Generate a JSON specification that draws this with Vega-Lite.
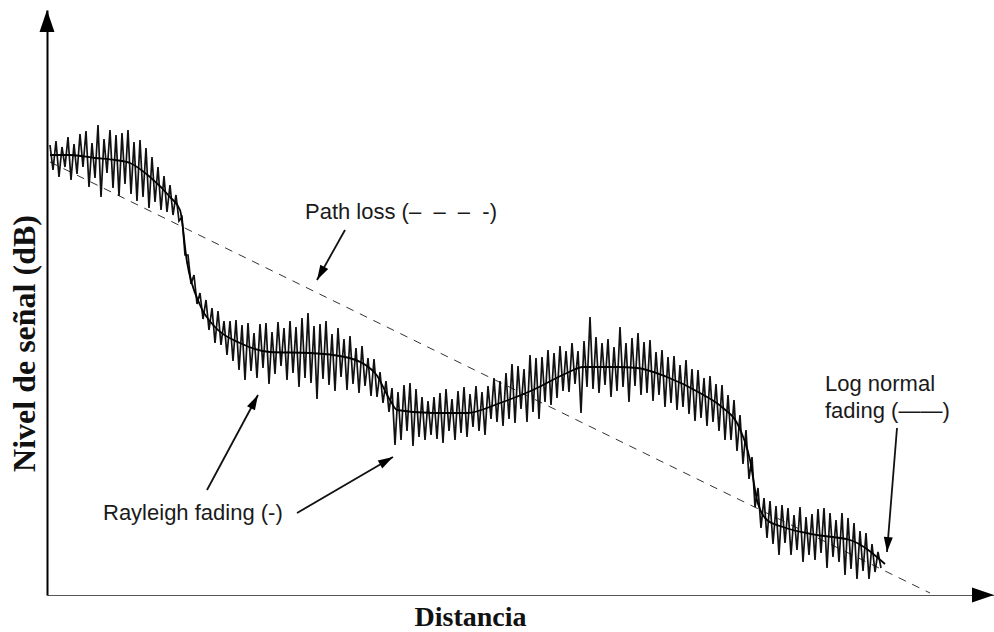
{
 "$schema": "https://vega.github.io/schema/vega-lite/v6.json",
 "width": 947,
 "height": 585,
 "autosize": "none",
 "padding": {"left": 47, "top": 10, "right": 0, "bottom": 37},
 "background": "white",
 "config": {
  "view": {"stroke": null},
  "axisX": {"domain": true, "domainColor": "#555", "domainWidth": 1, "ticks": false, "labels": false, "grid": false,
   "titleFont": "Liberation Serif", "titleFontWeight": "bold", "titleFontSize": 28, "titleColor": "#111",
   "titleX": 423, "titleY": 30, "titleAlign": "center", "titleBaseline": "alphabetic"},
  "axisY": {"domain": true, "domainColor": "#000", "domainWidth": 2, "ticks": false, "labels": false, "grid": false,
   "titleFont": "Liberation Serif", "titleFontWeight": "bold", "titleFontSize": 32, "titleColor": "#111",
   "titleX": -13, "titleY": 333, "titleAngle": 270, "titleAlign": "center", "titleBaseline": "alphabetic"}
 },
 "datasets": {
  "pathloss": [{"x": 3, "y": 433}, {"x": 883, "y": 2}],
  "lognormal": [
   {"x":3,"y":440},{"x":23,"y":440},{"x":48,"y":437},{"x":68,"y":435},{"x":83,"y":432},{"x":103,"y":418},{"x":123,"y":398},{"x":133,"y":385},{"x":140,"y":333},{"x":153,"y":290},{"x":168,"y":268},{"x":193,"y":252},{"x":223,"y":243},{"x":263,"y":242},{"x":298,"y":238},{"x":328,"y":222},{"x":343,"y":195},{"x":350,"y":185},{"x":386,"y":182},{"x":420,"y":182},{"x":453,"y":192},{"x":486,"y":205},{"x":520,"y":222},{"x":536,"y":228},{"x":570,"y":228},{"x":590,"y":227},{"x":620,"y":218},{"x":653,"y":202},{"x":676,"y":187},{"x":690,"y":172},{"x":703,"y":135},{"x":710,"y":95},{"x":720,"y":75},{"x":736,"y":68},{"x":770,"y":60},{"x":803,"y":55},{"x":838,"y":31}
  ],
  "rayleigh": [
   {"x":3,"y":450},{"x":6,"y":425},{"x":9,"y":454},{"x":12,"y":418},{"x":15,"y":448},{"x":18,"y":428},{"x":21,"y":458},{"x":24,"y":415},{"x":27,"y":451},{"x":30,"y":421},{"x":33,"y":461},{"x":36,"y":428},{"x":39,"y":464},{"x":42,"y":408},{"x":45,"y":452},{"x":48,"y":417},{"x":51,"y":470},{"x":54,"y":398},{"x":57,"y":456},{"x":60,"y":422},{"x":63,"y":465},{"x":66,"y":407},{"x":69,"y":460},{"x":72,"y":399},{"x":75,"y":462},{"x":78,"y":411},{"x":81,"y":465},{"x":84,"y":401},{"x":87,"y":453},{"x":90,"y":394},{"x":93,"y":455},{"x":96,"y":398},{"x":99,"y":447},{"x":102,"y":387},{"x":105,"y":438},{"x":108,"y":393},{"x":111,"y":428},{"x":114,"y":385},{"x":117,"y":419},{"x":120,"y":383},{"x":123,"y":410},{"x":126,"y":380},{"x":129,"y":400},{"x":132,"y":374},{"x":135,"y":378},{"x":138,"y":340},{"x":141,"y":340},{"x":144,"y":311},{"x":147,"y":320},{"x":150,"y":291},{"x":153,"y":302},{"x":156,"y":276},{"x":159,"y":295},{"x":162,"y":265},{"x":165,"y":287},{"x":168,"y":252},{"x":171,"y":284},{"x":174,"y":250},{"x":177,"y":274},{"x":180,"y":240},{"x":183,"y":274},{"x":186,"y":234},{"x":189,"y":275},{"x":192,"y":225},{"x":195,"y":270},{"x":198,"y":215},{"x":201,"y":272},{"x":204,"y":224},{"x":207,"y":262},{"x":210,"y":217},{"x":213,"y":271},{"x":216,"y":227},{"x":219,"y":272},{"x":222,"y":211},{"x":225,"y":263},{"x":228,"y":221},{"x":231,"y":273},{"x":234,"y":229},{"x":237,"y":267},{"x":240,"y":215},{"x":243,"y":274},{"x":246,"y":222},{"x":249,"y":268},{"x":252,"y":208},{"x":255,"y":277},{"x":258,"y":217},{"x":261,"y":282},{"x":264,"y":212},{"x":267,"y":269},{"x":270,"y":196},{"x":273,"y":271},{"x":276,"y":216},{"x":279,"y":274},{"x":282,"y":210},{"x":285,"y":261},{"x":288,"y":204},{"x":291,"y":267},{"x":294,"y":218},{"x":297,"y":256},{"x":300,"y":205},{"x":303,"y":259},{"x":306,"y":211},{"x":309,"y":247},{"x":312,"y":202},{"x":315,"y":249},{"x":318,"y":209},{"x":321,"y":237},{"x":324,"y":199},{"x":327,"y":236},{"x":330,"y":198},{"x":333,"y":223},{"x":336,"y":192},{"x":339,"y":214},{"x":342,"y":183},{"x":345,"y":207},{"x":348,"y":150},{"x":351,"y":203},{"x":354,"y":155},{"x":357,"y":210},{"x":360,"y":164},{"x":363,"y":212},{"x":366,"y":149},{"x":369,"y":206},{"x":372,"y":158},{"x":375,"y":198},{"x":378,"y":155},{"x":381,"y":194},{"x":384,"y":160},{"x":387,"y":198},{"x":390,"y":156},{"x":393,"y":202},{"x":396,"y":152},{"x":399,"y":206},{"x":402,"y":164},{"x":405,"y":196},{"x":408,"y":155},{"x":411,"y":204},{"x":414,"y":162},{"x":417,"y":208},{"x":420,"y":158},{"x":423,"y":201},{"x":426,"y":168},{"x":429,"y":209},{"x":432,"y":164},{"x":435,"y":203},{"x":438,"y":160},{"x":441,"y":209},{"x":444,"y":176},{"x":447,"y":217},{"x":450,"y":173},{"x":453,"y":214},{"x":456,"y":169},{"x":459,"y":222},{"x":462,"y":176},{"x":465,"y":231},{"x":468,"y":172},{"x":471,"y":229},{"x":474,"y":186},{"x":477,"y":226},{"x":480,"y":173},{"x":483,"y":240},{"x":486,"y":183},{"x":489,"y":237},{"x":492,"y":176},{"x":495,"y":238},{"x":498,"y":193},{"x":501,"y":245},{"x":504,"y":190},{"x":507,"y":242},{"x":510,"y":197},{"x":513,"y":249},{"x":516,"y":204},{"x":519,"y":244},{"x":522,"y":203},{"x":525,"y":252},{"x":528,"y":211},{"x":531,"y":244},{"x":534,"y":182},{"x":537,"y":254},{"x":540,"y":208},{"x":543,"y":278},{"x":546,"y":206},{"x":549,"y":258},{"x":552,"y":202},{"x":555,"y":252},{"x":558,"y":210},{"x":561,"y":256},{"x":564,"y":198},{"x":567,"y":248},{"x":570,"y":204},{"x":573,"y":268},{"x":576,"y":208},{"x":579,"y":252},{"x":582,"y":193},{"x":585,"y":257},{"x":588,"y":209},{"x":591,"y":262},{"x":594,"y":200},{"x":597,"y":253},{"x":600,"y":202},{"x":603,"y":255},{"x":606,"y":194},{"x":609,"y":243},{"x":612,"y":200},{"x":615,"y":245},{"x":618,"y":188},{"x":621,"y":238},{"x":624,"y":192},{"x":627,"y":239},{"x":630,"y":185},{"x":633,"y":230},{"x":636,"y":188},{"x":639,"y":235},{"x":642,"y":181},{"x":645,"y":226},{"x":648,"y":174},{"x":651,"y":225},{"x":654,"y":177},{"x":657,"y":217},{"x":660,"y":169},{"x":663,"y":219},{"x":666,"y":173},{"x":669,"y":211},{"x":672,"y":164},{"x":675,"y":210},{"x":678,"y":155},{"x":681,"y":200},{"x":684,"y":155},{"x":687,"y":195},{"x":690,"y":144},{"x":693,"y":180},{"x":696,"y":131},{"x":699,"y":165},{"x":702,"y":116},{"x":705,"y":138},{"x":708,"y":88},{"x":711,"y":107},{"x":714,"y":67},{"x":717,"y":97},{"x":720,"y":57},{"x":723,"y":94},{"x":726,"y":51},{"x":729,"y":89},{"x":732,"y":40},{"x":735,"y":90},{"x":738,"y":52},{"x":741,"y":87},{"x":744,"y":40},{"x":747,"y":80},{"x":750,"y":45},{"x":753,"y":88},{"x":756,"y":33},{"x":759,"y":78},{"x":762,"y":40},{"x":765,"y":81},{"x":768,"y":35},{"x":771,"y":86},{"x":774,"y":42},{"x":777,"y":87},{"x":780,"y":27},{"x":783,"y":82},{"x":786,"y":38},{"x":789,"y":75},{"x":792,"y":33},{"x":795,"y":82},{"x":798,"y":20},{"x":801,"y":77},{"x":804,"y":26},{"x":807,"y":72},{"x":810,"y":16},{"x":813,"y":64},{"x":816,"y":24},{"x":819,"y":62},{"x":822,"y":16},{"x":825,"y":51},{"x":828,"y":23},{"x":831,"y":43},{"x":834,"y":27}
  ],
  "arrows": [
   {"x": 298, "y": 365, "x2": 270, "y2": 315, "a": 209},
   {"x": 160, "y": 105, "x2": 211, "y2": 200, "a": 28},
   {"x": 250, "y": 82, "x2": 346, "y2": 138, "a": 60},
   {"x": 850, "y": 167, "x2": 840, "y2": 43, "a": 185}
  ],
  "axisArrows": [
   {"x": 0, "y": 585, "a": 0},
   {"x": 947, "y": 0, "a": 90}
  ],
  "labels": [
   {"x": 258, "y": 383, "text": "Path loss (–\u00a0\u00a0–\u00a0\u00a0–\u00a0\u00a0-)"},
   {"x": 56, "y": 82, "text": "Rayleigh fading (-)"},
   {"x": 778, "y": 211, "text": "Log normal"},
   {"x": 778, "y": 184, "text": "fading (——)"}
  ]
 },
 "layer": [
  {
   "data": {"name": "pathloss"},
   "mark": {"type": "line", "strokeDash": [8, 7], "strokeWidth": 1, "color": "#333"},
   "encoding": {
    "x": {"field": "x", "type": "quantitative", "title": "Distancia", "scale": {"domain": [0, 947], "nice": false, "zero": false}},
    "y": {"field": "y", "type": "quantitative", "title": "Nivel de señal (dB)", "scale": {"domain": [0, 585], "nice": false, "zero": false}}
   }
  },
  {
   "data": {"name": "rayleigh"},
   "mark": {"type": "line", "strokeWidth": 1.7, "color": "#111"},
   "encoding": {
    "x": {"field": "x", "type": "quantitative", "title": "Distancia"},
    "y": {"field": "y", "type": "quantitative", "title": "Nivel de señal (dB)"}
   }
  },
  {
   "data": {"name": "lognormal"},
   "mark": {"type": "line", "strokeWidth": 1.8, "color": "#000", "interpolate": "monotone"},
   "encoding": {
    "x": {"field": "x", "type": "quantitative", "title": "Distancia"},
    "y": {"field": "y", "type": "quantitative", "title": "Nivel de señal (dB)"}
   }
  },
  {
   "data": {"name": "arrows"},
   "mark": {"type": "rule", "strokeWidth": 1.8, "color": "#111"},
   "encoding": {
    "x": {"field": "x", "type": "quantitative", "title": "Distancia"},
    "y": {"field": "y", "type": "quantitative", "title": "Nivel de señal (dB)"},
    "x2": {"field": "x2"},
    "y2": {"field": "y2"}
   }
  },
  {
   "data": {"name": "arrows"},
   "mark": {"type": "point", "shape": "M0,0L0.6,2L-0.6,2Z", "filled": true, "size": 225, "color": "#000", "opacity": 1, "strokeWidth": 0},
   "encoding": {
    "x": {"field": "x2", "type": "quantitative", "title": "Distancia"},
    "y": {"field": "y2", "type": "quantitative", "title": "Nivel de señal (dB)"},
    "angle": {"field": "a", "type": "quantitative", "scale": null}
   }
  },
  {
   "data": {"name": "axisArrows"},
   "mark": {"type": "point", "shape": "M0,0L0.68,2L-0.68,2Z", "filled": true, "size": 484, "color": "#000", "opacity": 1, "strokeWidth": 0},
   "encoding": {
    "x": {"field": "x", "type": "quantitative", "title": "Distancia"},
    "y": {"field": "y", "type": "quantitative", "title": "Nivel de señal (dB)"},
    "angle": {"field": "a", "type": "quantitative", "scale": null}
   }
  },
  {
   "data": {"name": "labels"},
   "mark": {"type": "text", "font": "Liberation Sans", "fontSize": 22, "align": "left", "baseline": "middle", "color": "#1a1a1a"},
   "encoding": {
    "x": {"field": "x", "type": "quantitative", "title": "Distancia"},
    "y": {"field": "y", "type": "quantitative", "title": "Nivel de señal (dB)"},
    "text": {"field": "text"}
   }
  }
 ]
}
